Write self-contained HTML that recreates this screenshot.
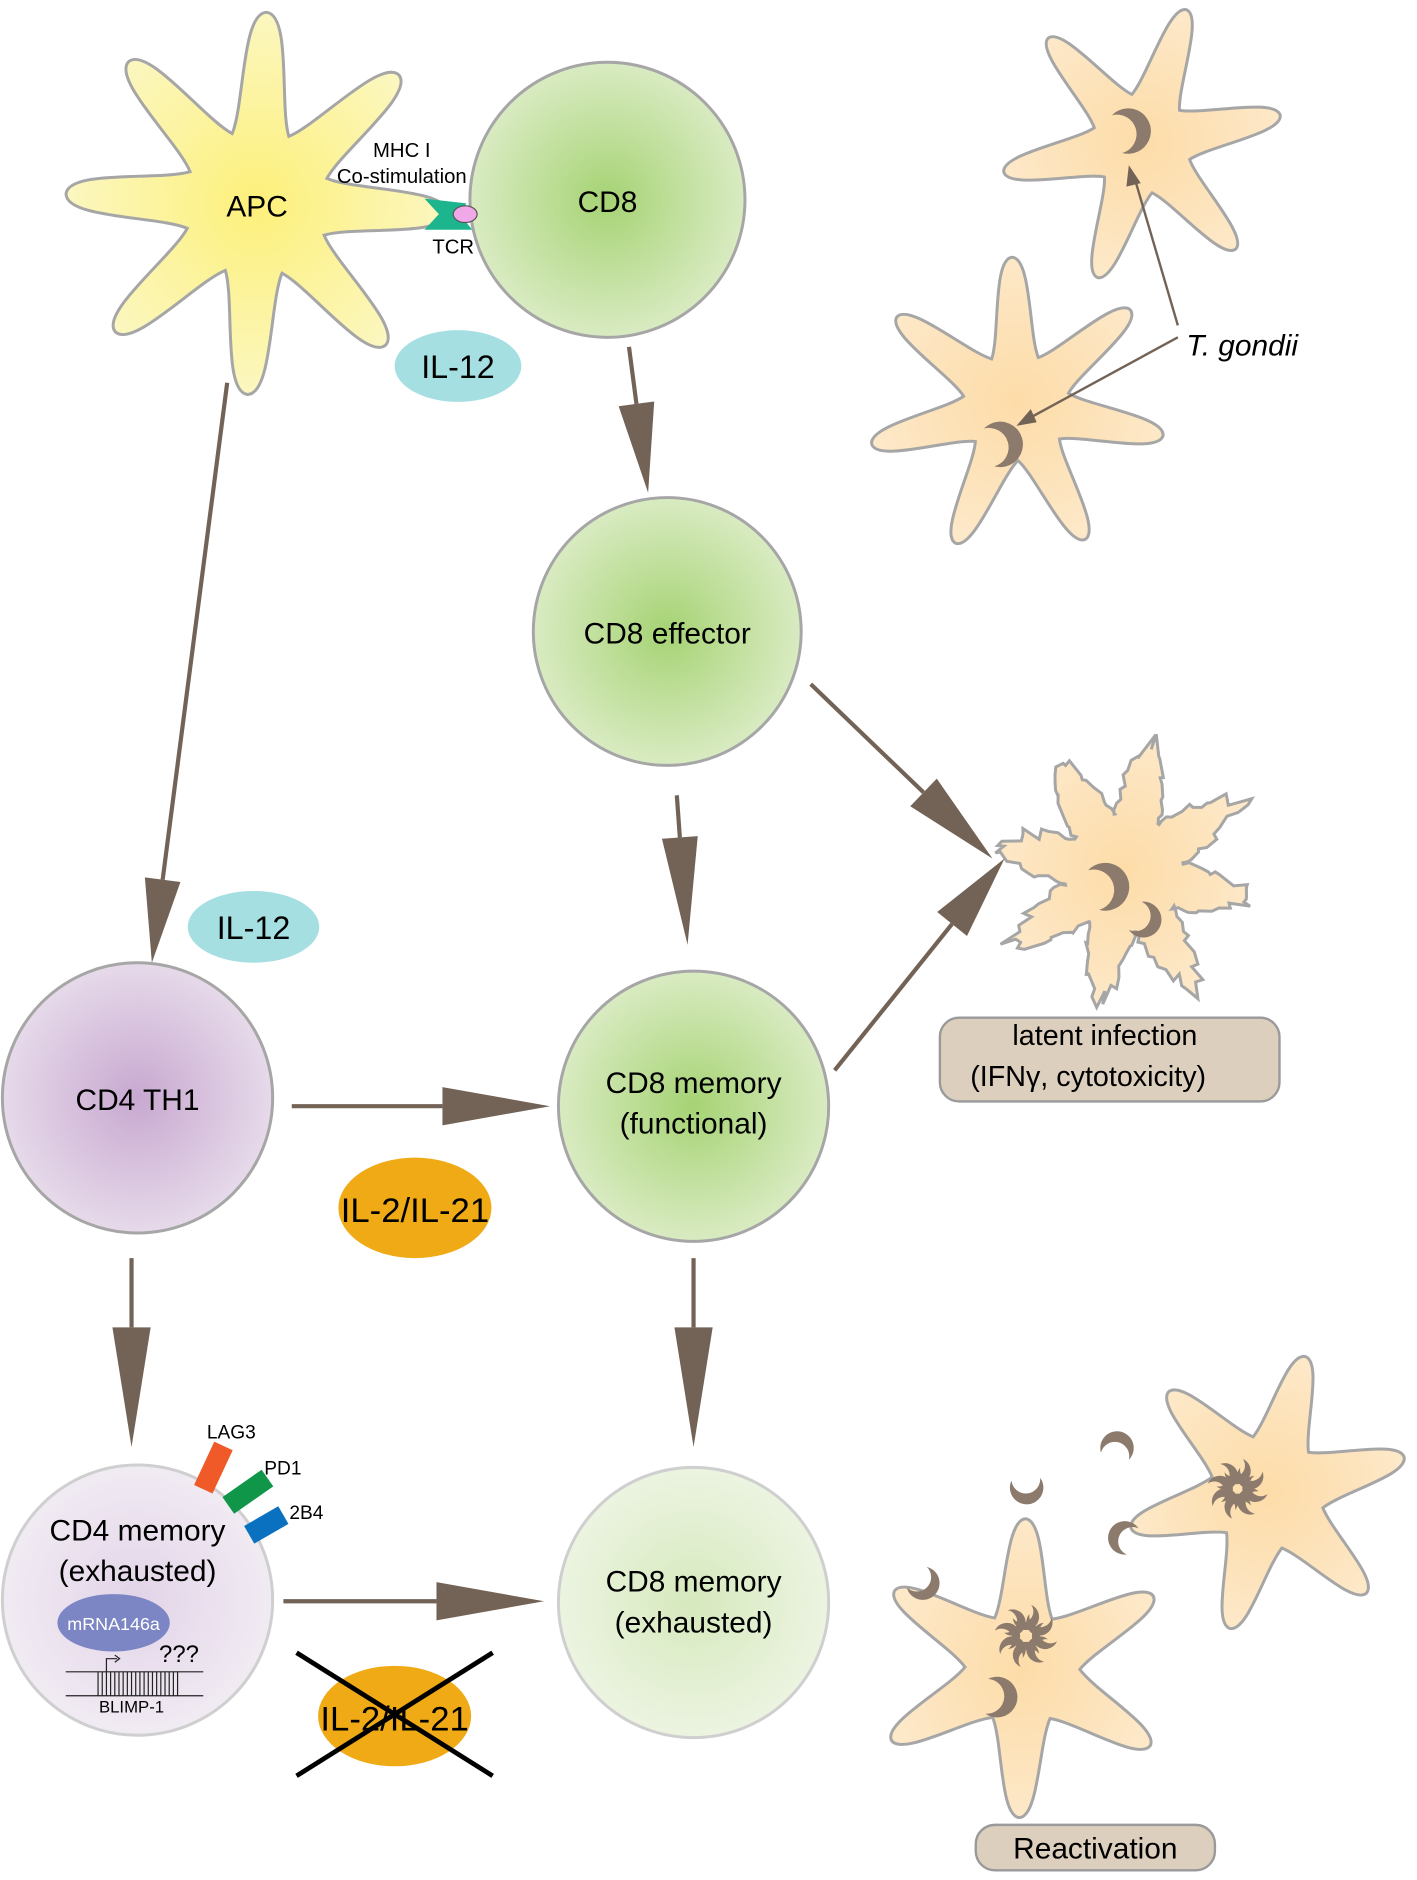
<!DOCTYPE html>
<html><head><meta charset="utf-8"><style>html,body{margin:0;padding:0;background:#fff}svg{display:block}text{font-family:"Liberation Sans",Arial,sans-serif}</style></head>
<body>
<svg id="s" width="1417" height="1880" viewBox="0 0 1185 1572" xmlns="http://www.w3.org/2000/svg">
<defs>
<radialGradient id="gy"><stop offset="0" stop-color="#fdf07a"/><stop offset="1" stop-color="#fbf7c0"/></radialGradient>
<radialGradient id="gg"><stop offset="0" stop-color="#a6d374"/><stop offset="1" stop-color="#d9ebc2"/></radialGradient>
<radialGradient id="gg2"><stop offset="0" stop-color="#d6e9bd"/><stop offset="1" stop-color="#ecf4e1"/></radialGradient>
<radialGradient id="gp"><stop offset="0" stop-color="#c8a8d0"/><stop offset="1" stop-color="#e6daea"/></radialGradient>
<radialGradient id="gp2"><stop offset="0" stop-color="#e2d4e8"/><stop offset="1" stop-color="#f1ebf3"/></radialGradient>
<radialGradient id="go"><stop offset="0" stop-color="#fddca8"/><stop offset="1" stop-color="#fde8c8"/></radialGradient>
</defs>
<g id="cells"></g>
<circle cx="508" cy="167" r="115" fill="url(#gg)" stroke="#a6a6a6" stroke-width="2.5"/>
<circle cx="558" cy="528" r="112" fill="url(#gg)" stroke="#a6a6a6" stroke-width="2.5"/>
<circle cx="580" cy="925" r="113" fill="url(#gg)" stroke="#a6a6a6" stroke-width="2.5"/>
<circle cx="580" cy="1340" r="113" fill="url(#gg2)" stroke="#cfcfcf" stroke-width="2.5"/>
<circle cx="115" cy="918" r="113" fill="url(#gp)" stroke="#a6a6a6" stroke-width="2.5"/>
<circle cx="115" cy="1338" r="113" fill="url(#gp2)" stroke="#cfcfcf" stroke-width="2.5"/>
<path d="M355 166 L390 170 L385 180 L395 192 L355 192 L367 179 Z" fill="#1db58e"/>
<ellipse cx="389" cy="179" rx="10" ry="7" fill="#f0a8e8" stroke="#555" stroke-width="1"/>
<rect x="170" y="1207" width="17" height="40" fill="#f05a28" transform="rotate(25 178 1227)"/>
<rect x="199" y="1227" width="17" height="40" fill="#0f9648" transform="rotate(55 207 1247)"/>
<rect x="214" y="1258" width="17" height="33" fill="#0a70c0" transform="rotate(60 222 1275)"/>
<text x="173" y="1203" font-size="16">LAG3</text>
<text x="221" y="1233" font-size="16">PD1</text>
<text x="242" y="1270" font-size="16">2B4</text>
<ellipse cx="383" cy="306" rx="53" ry="30" fill="#a6dfe2"/>
<text x="383" y="316" font-size="27" text-anchor="middle">IL-12</text>
<ellipse cx="212" cy="775" rx="55" ry="30" fill="#a6dfe2"/>
<text x="212" y="785" font-size="27" text-anchor="middle">IL-12</text>
<ellipse cx="347" cy="1010" rx="64" ry="42" fill="#f0aa16"/>
<text x="347" y="1022" font-size="29" text-anchor="middle">IL-2/IL-21</text>
<ellipse cx="330" cy="1435" rx="64" ry="42" fill="#f0aa16"/>
<text x="330" y="1447" font-size="29" text-anchor="middle">IL-2/IL-21</text>
<line x1="248" y1="1382" x2="412" y2="1485" stroke="#000" stroke-width="4"/>
<line x1="412" y1="1382" x2="248" y2="1485" stroke="#000" stroke-width="4"/>
<ellipse cx="95" cy="1357" rx="47" ry="24" fill="#7c86c4"/>
<text x="95" y="1363" font-size="15" fill="#fff" text-anchor="middle">mRNA146a</text>
<text x="133" y="1390" font-size="20">???</text>
<g id="dna" stroke="#222" stroke-width="1"></g>
<text x="110" y="1432" font-size="14" text-anchor="middle">BLIMP-1</text>
<text x="215" y="181" font-size="25" text-anchor="middle">APC</text>
<text x="508" y="177" font-size="25" text-anchor="middle">CD8</text>
<text x="558" y="538" font-size="25" text-anchor="middle">CD8 effector</text>
<text x="580" y="914" font-size="25" text-anchor="middle">CD8 memory</text>
<text x="580" y="948" font-size="25" text-anchor="middle">(functional)</text>
<text x="580" y="1331" font-size="25" text-anchor="middle">CD8 memory</text>
<text x="580" y="1365" font-size="25" text-anchor="middle">(exhausted)</text>
<text x="115" y="928" font-size="25" text-anchor="middle">CD4 TH1</text>
<text x="115" y="1288" font-size="25" text-anchor="middle">CD4 memory</text>
<text x="115" y="1322" font-size="25" text-anchor="middle">(exhausted)</text>
<text x="336" y="131" font-size="17" text-anchor="middle">MHC I</text>
<text x="336" y="153" font-size="17" text-anchor="middle">Co-stimulation</text>
<text x="379" y="212" font-size="17" text-anchor="middle">TCR</text>
<text x="992" y="297" font-size="25" font-style="italic">T. gondii</text>
<rect x="786" y="851" width="284" height="70" rx="16" fill="#dccfbd" stroke="#9a9a9a" stroke-width="2"/>
<text x="924" y="874" font-size="24" text-anchor="middle">latent infection</text>
<text x="910" y="908" font-size="24" text-anchor="middle">(IFNγ, cytotoxicity)</text>
<rect x="816" y="1526" width="200" height="38" rx="16" fill="#dccfbd" stroke="#9a9a9a" stroke-width="2"/>
<text x="916" y="1554" font-size="25" text-anchor="middle">Reactivation</text>
<g id="arrows" fill="#736357" stroke="#736357"></g>
<line x1="985" y1="272" x2="948" y2="146" stroke="#736357" stroke-width="2"/>
<path d="M944 138 L942 156 L954 153 Z" fill="#736357"/>
<line x1="985" y1="282" x2="860" y2="350" stroke="#736357" stroke-width="2"/>
<path d="M850 356 L862 342 L867 353 Z" fill="#736357"/>
</svg>
<script>
var NS="http://www.w3.org/2000/svg";
function P(cx,cy,r,a){return [cx+r*Math.cos(a),cy+r*Math.sin(a)];}
function star(cx,cy,R,r,n,rot){
 var d="",st=Math.PI/n;
 for(var i=0;i<n;i++){
  var a=rot+i*2*st, v0=P(cx,cy,r,a-st), t=P(cx,cy,R,a), v1=P(cx,cy,r,a+st);
  var c1=P(cx,cy,r*1.35,a-st*0.45), c2=P(cx,cy,R*1.0,a-0.13), c3=P(cx,cy,R*1.0,a+0.13), c4=P(cx,cy,r*1.35,a+st*0.45);
  if(i==0)d+="M"+v0;
  d+=" C"+c1+" "+c2+" "+t+" C"+c3+" "+c4+" "+v1;
 }
 return d+"Z";
}
var seed=7;function rnd(){seed=(seed*9301+49297)%233280;return seed/233280;}
function jag(cx,cy,R,r,n,rot){
 var pts=[],st=Math.PI/n;
 for(var i=0;i<n;i++){
  var a=rot+i*2*st;
  for(var k=0;k<=24;k++){var f=k/24;var ang=a-st+f*2*st;var w=1-Math.abs(f-0.5)*2;var rr=r+(R-r)*Math.pow(w,1.1);rr+= (rnd()-0.5)*24*w; pts.push(P(cx,cy,rr,ang+(rnd()-0.5)*0.08));}
 }
 return "M"+pts.join(" L")+"Z";
}
function add(tag,at,par){var e=document.createElementNS(NS,tag);for(var k in at)e.setAttribute(k,at[k]);(par||document.getElementById("cells")).appendChild(e);return e;}
function cres(x,y,s,rot){add("path",{d:"M0,-1 A1,1 0 1,0 1,0.4 A0.65,0.65 0 1,1 0,-1Z",fill:"#8c7b6c",transform:"translate("+x+","+y+") rotate("+rot+") scale("+s+")"});}
var gs={fill:"url(#go)",stroke:"#a6a6a6","stroke-width":2.5};
add("path",{d:star(215,170,160,62,8,0.05),fill:"url(#gy)",stroke:"#a6a6a6","stroke-width":2.5});
add("path",Object.assign({d:star(955,120,118,42,6,-1.25)},gs));
add("path",Object.assign({d:star(850,340,125,45,7,-1.6)},gs));
cres(945,110,19,200);cres(838,372,19,200);
add("path",Object.assign({d:jag(940,730,115,50,8,-1.35)},gs));
cres(926,742,20,200);cres(957,770,15,240);
add("path",Object.assign({d:star(1060,1248,118,48,6,-1.3)},gs));
add("path",Object.assign({d:star(855,1395,125,48,6,-1.55)},gs));
function rosette(x,y,n,s){for(var i=0;i<n;i++)cres(x+Math.cos(i*6.283/n)*s,y+Math.sin(i*6.283/n)*s,11,i*360/n);}
rosette(1035,1245,8,14);rosette(858,1368,8,15);
cres(835,1420,17,220);
cres(858,1245,14,300);cres(935,1210,14,140);cres(940,1285,14,60);cres(772,1325,14,260);
function arr(x1,y1,x2,y2,hl,hw,lw){
 var g=document.getElementById("arrows");var dx=x2-x1,dy=y2-y1,L=Math.hypot(dx,dy),ux=dx/L,uy=dy/L;
 var bx=x2-ux*hl,by=y2-uy*hl;
 add("line",{x1:x1,y1:y1,x2:bx,y2:by,"stroke-width":lw||3.5},g);
 add("path",{d:"M"+x2+","+y2+" L"+(bx-uy*hw)+","+(by+ux*hw)+" L"+(bx+uy*hw)+","+(by-ux*hw)+"Z",stroke:"none"},g);
}
arr(190,320,127,805,70,15);
arr(526,290,542,412,75,15);
arr(566,665,575,790,90,15);
arr(678,572,830,718,80,16);
arr(698,895,840,718,70,16);
arr(244,925,460,925,90,16);
arr(110,1052,110,1210,100,16);
arr(580,1052,580,1210,100,16);
arr(237,1339,455,1339,90,16);
var dg=document.getElementById("dna");
add("line",{x1:55,y1:1398,x2:170,y2:1398},dg);add("line",{x1:55,y1:1418,x2:170,y2:1418},dg);
for(var x=82;x<150;x+=3.5)add("line",{x1:x,y1:1398,x2:x,y2:1418},dg);
add("path",{d:"M89,1398 V1387 H98",fill:"none"},dg);
add("path",{d:"M96,1384 L100,1387 L96,1390",fill:"none"},dg);
</script>
</body></html>
